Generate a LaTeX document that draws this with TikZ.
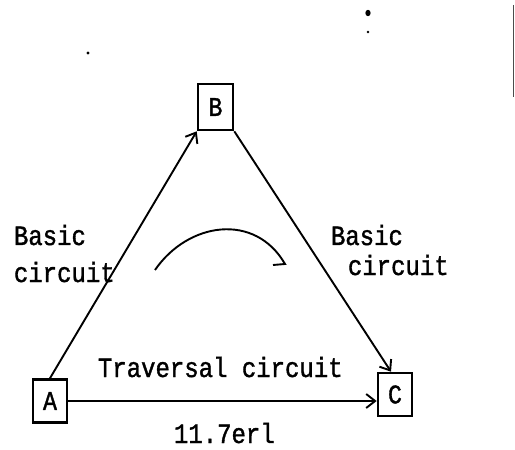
\documentclass[tikz,border=0pt]{standalone}
\usepackage{fontspec}
\newfontfamily\typewr[FakeStretch=0.86,FakeBold=1.3]{Liberation Mono}
\usetikzlibrary{arrows.meta}
\begin{document}
\begin{tikzpicture}[x=1bp,y=-1bp,
  line width=1.9bp,
  site/.style={draw, line width=2.6bp, minimum width=34bp, minimum height=43bp,
               inner sep=0pt, font=\typewr\fontsize{27}{27}\selectfont},
  link/.style={-{Straight Barb[length=9bp,width=14bp,line width=1.9bp]}},
  lbl/.style={anchor=base west, inner sep=0pt, font=\typewr\fontsize{28}{28}\selectfont},
  speck/.style={fill=black, draw=none}]
  \useasboundingbox (0,0) rectangle (515,450);

  % stations
  \node[site, minimum width=35bp, minimum height=46bp] (B) at (215.5,107) {B};
  \node[site] (A) at (50,401) {A};
  \node[site] (C) at (395,394.5) {C};

  % circuits between the stations
  \draw[link] (A.north) -- (B.south west);
  \draw[link] (B.south east) -- ([xshift=-4bp]C.north);
  \draw[link] (A.east) -- (A.east -| C.west);

  % direction of traversal
  \coordinate (r0) at (155,270);
  \coordinate (r1) at (285,264);
  \coordinate (r2) at (273,265);
  \draw (r0) .. controls (188,222) and (255,212) .. (r1) -- (r2);

  % labels
  \node[lbl] (bl1) at (13,245) {Basic};
  \node[lbl] (bl2) at (13,282) {circuit};
  \node[lbl] (br1) at (330,245) {Basic};
  \node[lbl] (br2) at (347,275) {circuit};
  \node[lbl] (tv) at (97,377) {Traversal circuit};
  \node[lbl] (pg) at (173,443) {11.7erl};

  % loose marks on the sheet
  \fill[speck] (88,53) circle (1.6);
  \fill[speck] (368,13) ellipse (2.6 and 3.2);
  \fill[speck] (368,32) circle (1.4);
  \draw[line width=1.2bp, black!70] (513.5,5) -- (513.5,97);
\end{tikzpicture}
\end{document}
